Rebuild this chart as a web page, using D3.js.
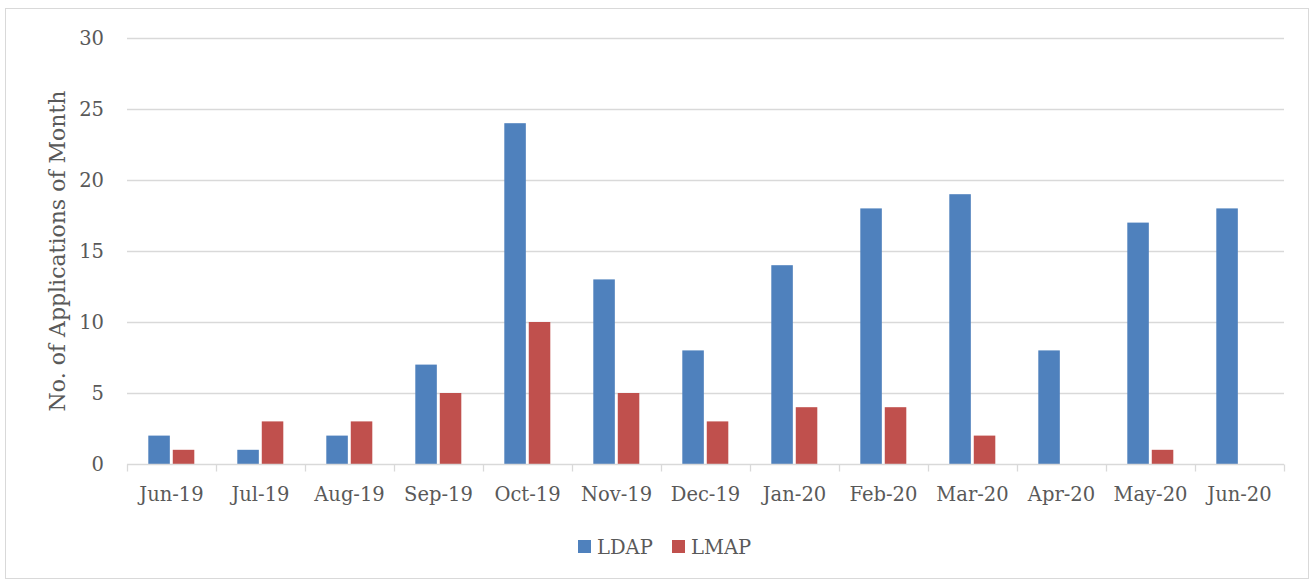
<!DOCTYPE html>
<html><head><meta charset="utf-8">
<script src="https://cdn.jsdelivr.net/npm/d3@7"></script>
<style>body{margin:0;background:#fff}svg{display:block}</style>
</head><body>
<script>
const categories = ["Jun-19","Jul-19","Aug-19","Sep-19","Oct-19","Nov-19","Dec-19","Jan-20","Feb-20","Mar-20","Apr-20","May-20","Jun-20"];
const ldap = [2,1,2,7,24,13,8,14,18,19,8,17,18];
const lmap = [1,3,3,5,10,5,3,4,4,2,0,1,0];
const seriesNames = ["LDAP","LMAP"];
const colors = ["#4f81bd","#c0504d"];
const yTicks = [0,5,10,15,20,25,30];

const W=1314,H=580;
const svg=d3.select("body").append("svg").attr("width",W).attr("height",H);
const font="DejaVu Serif";
svg.append("rect").attr("x",5.5).attr("y",8.5).attr("width",1303).attr("height",570).attr("fill","#fff").attr("stroke","#d9d9d9");

const m={l:127,r:1284,t:38,b:464};
const x=d3.scaleBand().domain(categories).range([m.l,m.r]).paddingInner(0).paddingOuter(0);
const y=d3.scaleLinear().domain([0,30]).range([m.b,m.t]);
const inner=d3.scaleBand().domain(seriesNames).range([21.3,x.bandwidth()-21.7]).paddingInner(0.12);

// gridlines
svg.append("g").selectAll("line").data(yTicks.filter(d=>d>0)).join("line")
  .attr("x1",m.l).attr("x2",m.r).attr("y1",d=>Math.round(y(d))+0.5).attr("y2",d=>Math.round(y(d))+0.5)
  .attr("stroke","#d9d9d9").attr("stroke-width",1.3);

// y labels
svg.append("g").selectAll("text").data(yTicks).join("text")
  .attr("x",104).attr("y",d=>y(d)).attr("dy","0.35em").attr("text-anchor","end")
  .attr("font-family",font).attr("font-size",19.5).attr("fill","#595959").text(d=>d);

// bars
const data=[ldap,lmap];
categories.forEach((c,i)=>{
  seriesNames.forEach((s,j)=>{
    const v=data[j][i];
    if(v>0) svg.append("rect").attr("x",x(c)+inner(s)).attr("width",inner.bandwidth())
      .attr("y",y(v)).attr("height",y(0)-y(v)).attr("fill",colors[j]);
  });
});

// x axis
const bl=Math.round(y(0))+0.5;
svg.append("line").attr("x1",m.l).attr("x2",m.r).attr("y1",bl).attr("y2",bl).attr("stroke","#d9d9d9").attr("stroke-width",1.3);
const bounds=categories.map(c=>x(c)).concat([m.r]);
svg.append("g").selectAll("line").data(bounds).join("line")
  .attr("x1",d=>Math.round(d)+0.5).attr("x2",d=>Math.round(d)+0.5).attr("y1",bl).attr("y2",bl+7)
  .attr("stroke","#d9d9d9").attr("stroke-width",1.3);
svg.append("g").selectAll("text").data(categories).join("text")
  .attr("x",d=>x(d)+x.bandwidth()/2).attr("y",494).attr("dy","0.35em").attr("text-anchor","middle")
  .attr("font-family",font).attr("font-size",19.5).attr("fill","#595959").text(d=>d);

// y title
svg.append("text").attr("transform","translate(57,251) rotate(-90)").attr("text-anchor","middle").attr("dy","0.35em")
  .attr("font-family",font).attr("font-size",22).attr("fill","#595959").text("No. of Applications of Month");

// legend
const lx=[578,672];
seriesNames.forEach((s,j)=>{
  svg.append("rect").attr("x",lx[j]).attr("y",540).attr("width",13).attr("height",13).attr("fill",colors[j]);
  svg.append("text").attr("x",lx[j]+19).attr("y",547).attr("dy","0.35em")
    .attr("font-family",font).attr("font-size",19.5).attr("fill","#595959").text(s);
});
</script>
</body></html>
